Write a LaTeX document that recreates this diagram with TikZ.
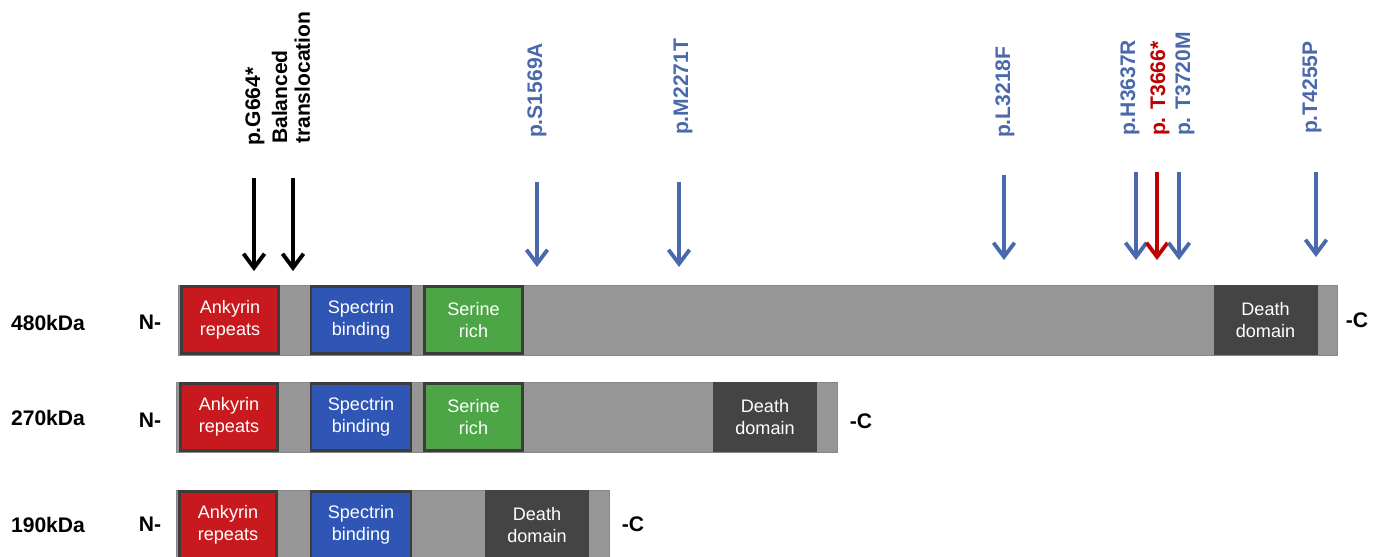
\documentclass[tikz,border=0pt]{standalone}
\usepackage{fontspec}
\setmainfont{Liberation Sans}
\usetikzlibrary{arrows.meta,positioning}
\definecolor{ankyrinred}{HTML}{C81A1E}
\definecolor{spectrinblue}{HTML}{2F55B5}
\definecolor{serinegreen}{HTML}{4DA646}
\definecolor{bargray}{HTML}{969696}
\definecolor{deathgray}{HTML}{444444}
\definecolor{edgegray}{HTML}{3C3C3C}
\definecolor{mutblue}{HTML}{4A69AD}
\definecolor{mutred}{HTML}{C00000}
\tikzset{
  proteinbar/.style={fill=bargray, draw=bargray!90!black, line width=0.4pt},
  domainbox/.style={draw=edgegray, line width=1.6pt, text=white, align=center, inner sep=0pt,
    minimum height=1.34cm, font=\fontsize{10.3}{12.3}\selectfont},
  ankbox/.style={domainbox, fill=ankyrinred, minimum width=1.95cm},
  specbox/.style={domainbox, fill=spectrinblue, minimum width=2cm},
  serbox/.style={domainbox, fill=serinegreen, minimum width=1.97cm},
  deathbox/.style={domainbox, draw=none, fill=deathgray, minimum height=1.4cm, minimum width=2.08cm},
  sizelabel/.style={font=\fontsize{12}{14}\selectfont\bfseries},
  endlabel/.style={font=\fontsize{12}{14}\selectfont\bfseries},
  mutlabel/.style={rotate=90, anchor=west, inner sep=1pt, font=\fontsize{12}{13}\selectfont\bfseries},
  mutarrow/.style={-{Straight Barb[length=8pt,width=12pt,line width=2.2pt]}, line width=2.2pt}
}
\begin{document}
\begin{tikzpicture}[x=0.02cm, y=-0.02cm]
  \useasboundingbox (0,0) rectangle (1375,556);
  \clip (0,0) rectangle (1375,556);
  % 480kDa isoform
  \draw[proteinbar] (178,285) rectangle (1337,355);
  \node[ankbox] (ank1) at (230,320) {Ankyrin\\repeats};
  \node[specbox] (spec1) at (361,320) {Spectrin\\binding};
  \node[serbox] (ser1) at (473.5,320) {Serine\\rich};
  \node[deathbox] (death1) at (1265.5,320) {Death\\domain};
  \node[sizelabel] (kda1) at (48,323) {480kDa};
  \node[endlabel] (nterm1) at (150,322) {N-};
  \node[endlabel] (cterm1) at (1357,320) {-C};
  % 270kDa isoform
  \draw[proteinbar] (176,382) rectangle (837,452);
  \node[ankbox] (ank2) at (229,417) {Ankyrin\\repeats};
  \node[specbox] (spec2) at (361,417) {Spectrin\\binding};
  \node[serbox] (ser2) at (473.5,417) {Serine\\rich};
  \node[deathbox] (death2) at (765,417) {Death\\domain};
  \node[sizelabel] (kda2) at (48,418) {270kDa};
  \node[endlabel] (nterm2) at (150,420) {N-};
  \node[endlabel] (cterm2) at (861,421) {-C};
  % 190kDa isoform
  \draw[proteinbar] (176,490) rectangle (609,560);
  \node[ankbox] (ank3) at (228,525) {Ankyrin\\repeats};
  \node[specbox] (spec3) at (361,525) {Spectrin\\binding};
  \node[deathbox] (death3) at (537,525) {Death\\domain};
  \node[sizelabel] (kda3) at (48,525) {190kDa};
  \node[endlabel] (nterm3) at (150,524) {N-};
  \node[endlabel] (cterm3) at (633,524) {-C};
  % mutations
  \node[mutlabel] (labg664) at (255,148) {p.G664*};
  \node[mutlabel, align=left] (labtrans) at (291,146) {Balanced\\translocation};
  \coordinate (topg664) at (254,178);
  \coordinate (tipg664) at (254,271);
  \coordinate (toptrans) at (293,178);
  \coordinate (tiptrans) at (293,271);
  \draw[mutarrow] (topg664) -- (tipg664);
  \draw[mutarrow] (toptrans) -- (tiptrans);
  \foreach \n/\x/\xt/\yt/\ytop/\ytip/\col/\txt in {
    s1569/537/537/140/182/267/mutblue/p.S1569A,
    m2271/679/683/137/182/267/mutblue/p.M2271T,
    l3218/1004/1005/140/175/260/mutblue/p.L3218F,
    h3637/1136/1130/138/172/260/mutblue/p.H3637R,
    t3666/1157/1160/138/172/260/mutred/p. T3666*,
    t3720/1179/1185/138/172/260/mutblue/p. T3720M,
    t4255/1316/1312/136/172/257/mutblue/p.T4255P}{
    \node[mutlabel, text=\col] (lab\n) at (\xt,\yt) {\txt};
    \coordinate (top\n) at (\x,\ytop);
    \coordinate (tip\n) at (\x,\ytip);
    \draw[mutarrow, \col] (top\n) -- (tip\n);
  }
\end{tikzpicture}
\end{document}
